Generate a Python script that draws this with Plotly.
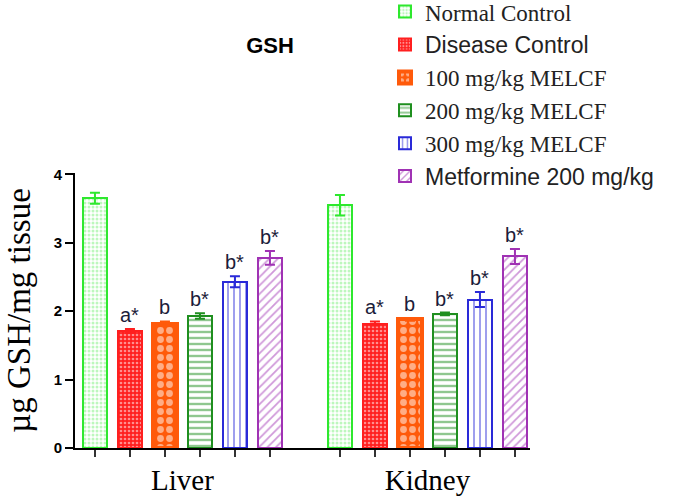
import numpy as np
import plotly.graph_objects as go

# GSH levels (µg GSH/mg tissue), one value per organ: [Liver, Kidney]
organs = ["Liver", "Kidney"]
groups = ["Normal Control", "Disease Control", "100 mg/kg MELCF",
          "200 mg/kg MELCF", "300 mg/kg MELCF", "Metformine 200 mg/kg"]

normal_control = [3.65, 3.55]
disease_control = [1.71, 1.82]
melcf_100 = [1.82, 1.88]
melcf_200 = [1.93, 1.96]
melcf_300 = [2.43, 2.17]
metformine = [2.78, 2.80]

normal_control_err = [0.08, 0.15]
disease_control_err = [0.03, 0.03]
melcf_100_err = [0.03, 0.02]
melcf_200_err = [0.04, 0.02]
melcf_300_err = [0.08, 0.11]
metformine_err = [0.10, 0.11]

sig_labels = ["", "a*", "b", "b*", "b*", "b*"]
y_ticks = [0, 1, 2, 3, 4]

means = [normal_control, disease_control, melcf_100, melcf_200, melcf_300, metformine]
errs = [normal_control_err, disease_control_err, melcf_100_err,
        melcf_200_err, melcf_300_err, metformine_err]

# look of each group
colors = ["#2ee82e", "#ff1f1f", "#ff5a0a", "#1f8f1f", "#2a2ad8", "#a032b4"]
patterns = [
    dict(shape=".", fgcolor="#7cf07c", bgcolor="white", size=4, solidity=0.45),
    dict(shape=".", fgcolor="white", bgcolor="#ff1f1f", size=4, solidity=0.35),
    dict(shape=".", fgcolor="white", bgcolor="#ff5a0a", size=9, solidity=0.45),
    dict(shape="-", fgcolor="#1f8f1f", bgcolor="white", size=6, solidity=0.4),
    dict(shape="|", fgcolor="#2a2ad8", bgcolor="white", size=6, solidity=0.3),
    dict(shape="/", fgcolor="#a032b4", bgcolor="white", size=6, solidity=0.3),
]
line_widths = [2, 2, 4, 2, 2, 2]
legend_fonts = ["Liberation Serif", "Liberation Sans", "Liberation Serif",
                "Liberation Serif", "Liberation Serif", "Liberation Sans"]

n_groups = len(groups)
gap = n_groups + 1  # one empty slot between organs
organ_idx = np.arange(len(organs))

fig = go.Figure()
annotations = []
for j, name in enumerate(groups):
    xpos = organ_idx * gap + j
    fig.add_trace(go.Bar(
        x=xpos, y=means[j],
        name=f'<span style="font-family:{legend_fonts[j]}">{name}</span>',
        width=0.68,
        marker=dict(color=colors[j], pattern=patterns[j],
                    line=dict(color=colors[j], width=line_widths[j])),
        error_y=dict(type="data", array=errs[j], color=colors[j],
                     thickness=2, width=5),
    ))
    if sig_labels[j]:
        for k in organ_idx:
            annotations.append(dict(
                x=xpos[k], y=means[j][k] + errs[j][k], text=sig_labels[j],
                showarrow=False, yanchor="bottom", yshift=1,
                font=dict(family="Liberation Sans", size=20, color="#1c1c3a"),
            ))

bar_pos = np.concatenate([organ_idx * gap + j for j in range(n_groups)])
label_pos = organ_idx * gap + (n_groups - 1) / 2

fig.update_layout(
    width=685, height=497,
    margin=dict(l=75, r=155, t=173, b=49, autoexpand=False),
    paper_bgcolor="white", plot_bgcolor="white",
    showlegend=True,
    title=dict(text="<b>GSH</b>", x=270 / 685, y=1 - 45 / 497, xref="container",
               yref="container", xanchor="center", yanchor="middle",
               font=dict(family="Liberation Sans", size=22, color="black")),
    legend=dict(x=(385 - 75) / (685 - 75 - 155), xref="paper",
                y=1.665, yref="paper", xanchor="left", yanchor="top",
                font=dict(family="Liberation Serif", size=23, color="#222"),
                traceorder="normal", bgcolor="rgba(0,0,0,0)"),
    annotations=annotations,
    bargap=0,
)

fig.update_xaxes(
    range=[-0.57, 12.43], showgrid=False, zeroline=False,
    showline=True, linecolor="black", linewidth=2,
    tickvals=label_pos, ticktext=organs, ticks="outside", ticklen=0,
    ticklabelstandoff=5,
    tickfont=dict(family="Liberation Serif", size=29, color="black"),
    minor=dict(tickvals=bar_pos, ticks="outside", ticklen=7, tickwidth=2,
               tickcolor="#333", showgrid=False),
)
fig.update_yaxes(
    range=[0, 4.02], showgrid=False, zeroline=False,
    showline=True, linecolor="black", linewidth=2,
    tickvals=y_ticks, ticktext=[f"<b>{t}</b>" for t in y_ticks],
    ticks="outside", ticklen=8, tickwidth=2, tickcolor="black",
    tickfont=dict(family="Liberation Sans", size=15, color="black"),
    title=dict(text="µg GSH/mg tissue", standoff=13,
               font=dict(family="Liberation Serif", size=33, color="black")),
)

# page without the browser's default body margin
fig.write_html("out.html", config={"displayModeBar": False},
               post_script="document.body.style.margin='0px';")
